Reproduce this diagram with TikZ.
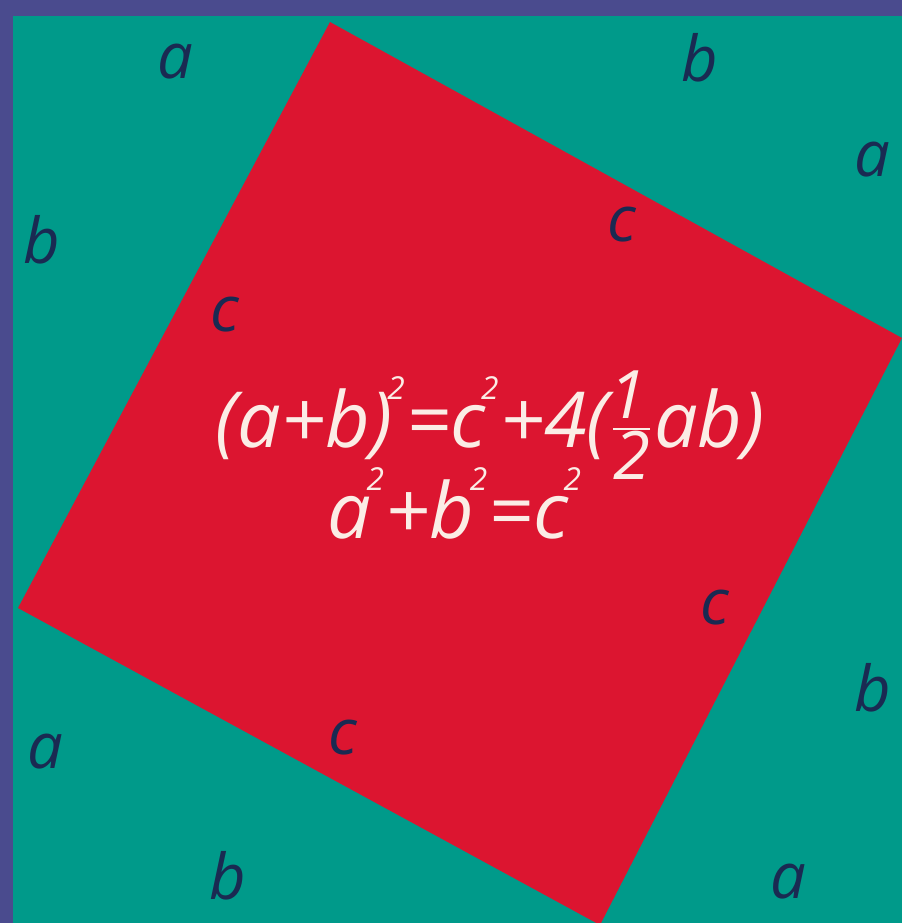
\documentclass[tikz,border=0pt]{standalone}
\usepackage{fontspec}
\setmainfont{Open Sans}
\usepackage{tikz}
\definecolor{pyFrame}{HTML}{4A4B8E}
\definecolor{pyTeal}{HTML}{009A8A}
\definecolor{pyRed}{HTML}{DC1530}
\definecolor{pyInk}{HTML}{1A2A52}
\definecolor{pyChalk}{HTML}{FBEDE6}
\newcommand{\sqr}{\kern-0.06em\raisebox{0.62em}{\fontsize{9}{9}\selectfont 2}\kern0.02em}
\newcommand{\digit}[1]{\mbox{\fontsize{19}{19}\selectfont #1}}
\newcommand{\half}{$\textstyle\frac{\digit{\kern-0.1em 1}}{\digit{2}}$}
\tikzset{
  side/.style={inner sep=0pt, text=pyInk, font=\fontsize{18}{22}\selectfont\itshape},
  formula/.style={inner sep=0pt, text=pyChalk, font=\fontsize{22}{26}\selectfont\itshape}
}
\begin{document}
\begin{tikzpicture}[x=0.01cm,y=-0.01cm]
  \useasboundingbox (0,0) rectangle (902,923);
  \fill[pyFrame] (0,0) rectangle (902,923);
  \fill[pyTeal] (13,16) rectangle (902,923);
  \fill[pyRed] (330,22) -- (902,338) -- (600,925) -- (18,608) -- cycle;
  % sides of the outer square
  \node[side] (ta) at (175,62) {a};
  \node[side] (tb) at (700,58) {b};
  \node[side] (ra) at (872,160) {a};
  \node[side] (rb) at (873,688) {b};
  \node[side] (ba) at (788,882) {a};
  \node[side] (bb) at (228,876) {b};
  \node[side] (la) at (45,752) {a};
  \node[side] (lb) at (42,240) {b};
  % sides of the inner square
  \node[side] (cn) at (622,225) {c};
  \node[side] (cw) at (225,315) {c};
  \node[side] (ce) at (715,608) {c};
  \node[side] (cs) at (343,738) {c};
  % the proof
  \node[formula] (eqa) at (490,425) {(a+b)\sqr=c\sqr+4(\half ab)};
  \node[formula] (eqb) at (455,503) {a\sqr+b\sqr=c\sqr};
\end{tikzpicture}
\end{document}
